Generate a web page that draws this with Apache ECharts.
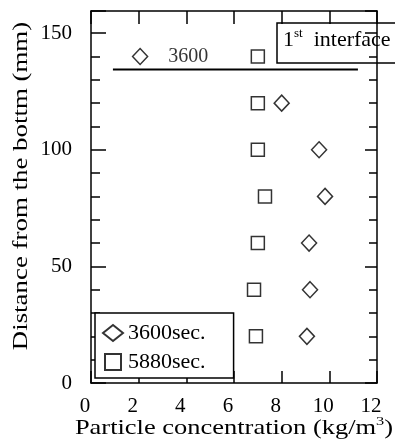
<!DOCTYPE html>
<html>
<head>
<meta charset="utf-8">
<script src="https://cdn.jsdelivr.net/npm/echarts@6/dist/echarts.min.js"></script>
<style>
  html, body { margin: 0; padding: 0; background: #fff; }
  #chart { width: 395px; height: 448px; }
</style>
</head>
<body>
<div id="chart"></div>
<script>
// Measured profiles: height above the bottom (mm) and concentration (kg/m3)
const heights3600 = [120, 100, 80, 60, 40, 20];
const conc3600 = [8.0, 9.57, 9.82, 9.15, 9.19, 9.06];
const heights5880 = [140, 120, 100, 80, 60, 40, 20];
const conc5880 = [7.0, 7.0, 7.0, 7.3, 7.0, 6.84, 6.92];

// First interface position at t = 3600 s
const interfaceHeight = 134.4;
const interfaceSpan = [0.92, 11.2];
const interfaceMarker = [2.06, 140];
const interfaceLabel = '3600';

const seriesNames = ['3600sec.', '5880sec.'];
const yLabelValues = [0, 50, 100, 150];
const xTitle = 'Particle concentration (kg/m{sup|3})';
const yTitle = 'Distance from the bottm (mm)';
const boxTitle = '{n|1}{s|st}{n|  interface}';

const FONT = '"Liberation Serif", "Times New Roman", serif';
const BLACK = '#000';

const pairs = (xs, ys) => xs.map((x, i) => [x, ys[i]]);

const X_MIN = 0, X_MAX = 12, Y_MIN = 0, Y_MAX = 159.5;
const axisLine = { show: true, onZero: false, lineStyle: { color: BLACK, width: 1.5 } };
const hiddenLine = { show: false, onZero: false };
const tick = (len) => ({ show: true, inside: true, length: len, lineStyle: { color: BLACK, width: 1.5 } });
const noLabel = { show: false };
const noSplit = { show: false };

const chart = echarts.init(document.getElementById('chart'), null, { renderer: 'canvas' });

const grid = { left: 91, right: 18, top: 11, bottom: 65, outerBoundsMode: 'none' };

const option = {
  animation: false,
  backgroundColor: '#fff',
  grid: [Object.assign({}, grid), Object.assign({}, grid)],
  xAxis: [
    {
      gridIndex: 0, type: 'value', position: 'bottom', min: X_MIN, max: X_MAX, interval: 2,
      axisLine, axisTick: tick(12), splitLine: noSplit,
      axisLabel: { color: BLACK, fontFamily: FONT, fontSize: 21, margin: 13, padding: [0, 12, 0, 0] }
    },
    {
      gridIndex: 0, type: 'value', position: 'top', min: X_MIN, max: X_MAX, interval: 2,
      axisLine, axisTick: tick(13), splitLine: noSplit, axisLabel: noLabel
    },
    { gridIndex: 1, type: 'value', min: X_MIN, max: X_MAX, show: false, axisLine: hiddenLine }
  ],
  yAxis: [
    {
      gridIndex: 0, type: 'value', position: 'left', min: Y_MIN, max: Y_MAX, interval: 10,
      axisLine, axisTick: tick(9), splitLine: noSplit,
      axisLabel: {
        color: BLACK, fontFamily: FONT, fontSize: 21, margin: 19,
        formatter: (v) => (yLabelValues.indexOf(v) >= 0 ? String(v) : '')
      }
    },
    {
      gridIndex: 0, type: 'value', position: 'right', min: Y_MIN, max: Y_MAX, interval: 10,
      axisLine, axisTick: tick(8), splitLine: noSplit, axisLabel: noLabel
    },
    {
      gridIndex: 1, type: 'value', position: 'left', min: Y_MIN, max: Y_MAX, interval: 50,
      axisLine: hiddenLine, axisTick: tick(15), splitLine: noSplit, axisLabel: noLabel
    },
    {
      gridIndex: 1, type: 'value', position: 'right', min: Y_MIN, max: Y_MAX, interval: 50,
      axisLine: hiddenLine, axisTick: tick(12), splitLine: noSplit, axisLabel: noLabel
    }
  ],
  legend: {
    data: [
      { name: seriesNames[0], icon: 'diamond' },
      { name: seriesNames[1], icon: 'path://M0,0H10V10H0Z' }
    ],
    orient: 'vertical',
    left: 95, top: 313,
    padding: [9, 28, 5, 7],
    itemGap: 7,
    itemWidth: 20, itemHeight: 16,
    backgroundColor: '#fff',
    borderColor: BLACK, borderWidth: 1.5, borderRadius: 0,
    textStyle: { color: BLACK, fontFamily: FONT, fontSize: 22 },
    selectedMode: false
  },
  series: [
    {
      name: 'interface', type: 'line', xAxisIndex: 0, yAxisIndex: 0,
      data: interfaceSpan.map((x) => [x, interfaceHeight]),
      symbol: 'none', lineStyle: { color: BLACK, width: 2 }, silent: true, z: 3
    },
    {
      name: 'interfaceLabel', type: 'scatter', xAxisIndex: 0, yAxisIndex: 0,
      data: [interfaceMarker],
      symbol: 'diamond', symbolSize: [15, 16],
      itemStyle: { color: '#fff', borderColor: BLACK, borderWidth: 1.5 },
      label: {
        show: true, position: 'right', distance: 20, formatter: interfaceLabel,
        color: BLACK, fontFamily: FONT, fontSize: 20
      },
      silent: true, z: 4
    },
    {
      name: seriesNames[0], type: 'scatter', xAxisIndex: 0, yAxisIndex: 0,
      data: pairs(conc3600, heights3600),
      symbol: 'diamond', symbolSize: [15, 16],
      itemStyle: { color: '#fff', borderColor: BLACK, borderWidth: 1.5 }, z: 4
    },
    {
      name: seriesNames[1], type: 'scatter', xAxisIndex: 0, yAxisIndex: 0,
      data: pairs(conc5880, heights5880),
      symbol: 'rect', symbolSize: 13,
      itemStyle: { color: '#fff', borderColor: BLACK, borderWidth: 1.5 }, z: 4
    }
  ],
  graphic: [
    {
      type: 'group', z: 100,
      children: [
        {
          type: 'rect',
          shape: { x: 277, y: 23, width: 130, height: 40 },
          style: { fill: '#fff', stroke: BLACK, lineWidth: 1.5 }
        },
        {
          type: 'text', x: 283, y: 40,
          style: {
            text: boxTitle, fill: BLACK, textVerticalAlign: 'middle',
            rich: {
              n: { fontFamily: FONT, fontSize: 22, fill: BLACK },
              s: { fontFamily: FONT, fontSize: 13, fill: BLACK, padding: [0, 0, 12, 0] }
            }
          }
        }
      ]
    },
    {
      type: 'text', x: 234, y: 428, scaleX: 1.26,
      style: {
        text: xTitle, fill: BLACK, textAlign: 'center', textVerticalAlign: 'middle',
        font: '21px ' + FONT,
        rich: {
          sup: { fontFamily: FONT, fontSize: 13, fill: BLACK, padding: [0, 0, 12, 0] }
        }
      }
    },
    {
      type: 'text', x: 21, y: 186, rotation: Math.PI / 2, scaleX: 1.28,
      style: {
        text: yTitle, fill: BLACK, textAlign: 'center', textVerticalAlign: 'middle',
        font: '21px ' + FONT
      }
    }
  ]
};

chart.setOption(option);
</script>
</body>
</html>
